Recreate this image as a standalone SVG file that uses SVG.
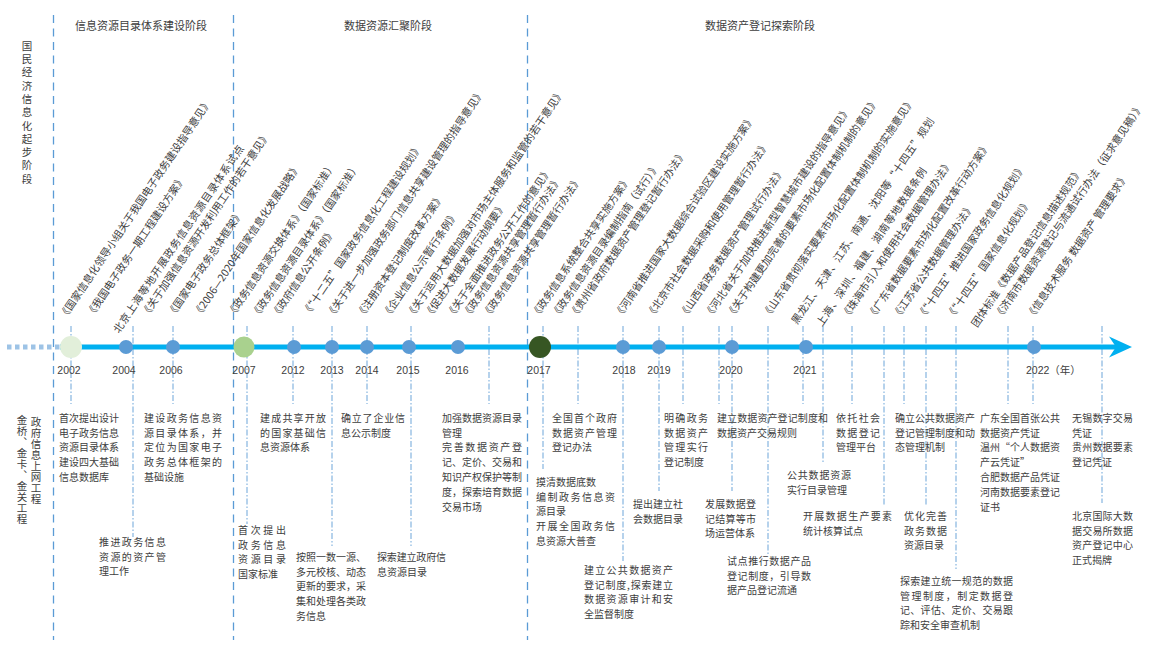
<svg xmlns="http://www.w3.org/2000/svg" width="1154" height="651" viewBox="0 0 1154 651">
<style>
text{font-family:"Noto Sans CJK SC","Liberation Sans",sans-serif;fill:#3d3d3d}
.stg{font-size:11px;text-anchor:middle}
.t{font-size:10.5px}
.d text{font-size:10px}
.yr{font-family:"Liberation Sans","Noto Sans CJK SC",sans-serif;font-size:10.5px;text-anchor:middle}
.vt{font-size:10.5px;writing-mode:vertical-rl}
.div{stroke:#5b9bd5;stroke-width:1.3;stroke-dasharray:8 5.5;fill:none}
.cn{stroke:#5b9bd5;stroke-width:0.9;stroke-dasharray:6 2 1.5 2;fill:none}
.dot{fill:#5b9bd5}
</style>
<rect width="1154" height="651" fill="#ffffff"/>

<g id="stages">
<line class="div" x1="53.5" y1="15" x2="53.5" y2="640"/>
<line class="div" x1="233.5" y1="15" x2="233.5" y2="640"/>
<line class="div" x1="527.5" y1="15" x2="527.5" y2="640"/>
<text class="stg" x="141" y="29.5">信息资源目录体系建设阶段</text>
<text class="stg" x="388" y="29.5">数据资源汇聚阶段</text>
<text class="stg" x="760" y="29.5">数据资产登记探索阶段</text>
<text class="vt" x="27" y="40.5" style="letter-spacing:2.8px">国民经济信息化起步阶段</text>
<text class="vt" x="36" y="417" style="letter-spacing:0.5px">政府信息上网工程</text>
<text class="vt" x="22" y="415" style="letter-spacing:0.5px">金桥、金卡、金关工程</text>
</g>

<g id="connectors">
<line class="cn" x1="71" y1="326" x2="71" y2="404"/>
<line class="cn" x1="133" y1="326" x2="133" y2="537"/>
<line class="cn" x1="173" y1="326" x2="173" y2="404"/>
<line class="cn" x1="247" y1="326" x2="247" y2="524"/>
<line class="cn" x1="293" y1="326" x2="293" y2="404"/>
<line class="cn" x1="332" y1="326" x2="332" y2="546"/>
<line class="cn" x1="367" y1="326" x2="367" y2="404"/>
<line class="cn" x1="411" y1="326" x2="411" y2="546"/>
<line class="cn" x1="489" y1="326" x2="489" y2="404"/>
<line class="cn" x1="543" y1="326" x2="543" y2="469"/>
<line class="cn" x1="578" y1="326" x2="578" y2="404"/>
<line class="cn" x1="623" y1="326" x2="623" y2="561"/>
<line class="cn" x1="659" y1="326" x2="659" y2="491"/>
<line class="cn" x1="683" y1="326" x2="683" y2="404"/>
<line class="cn" x1="719" y1="326" x2="719" y2="404"/>
<line class="cn" x1="732" y1="326" x2="732" y2="491"/>
<line class="cn" x1="768" y1="326" x2="768" y2="555"/>
<line class="cn" x1="803" y1="326" x2="803" y2="404"/>
<line class="cn" x1="823" y1="326" x2="823" y2="464"/>
<line class="cn" x1="852" y1="326" x2="852" y2="404"/>
<line class="cn" x1="884" y1="326" x2="884" y2="506"/>
<line class="cn" x1="904" y1="326" x2="904" y2="404"/>
<line class="cn" x1="926" y1="326" x2="926" y2="506"/>
<line class="cn" x1="956" y1="326" x2="956" y2="569"/>
<line class="cn" x1="1008" y1="326" x2="1008" y2="404"/>
<line class="cn" x1="1033" y1="326" x2="1033" y2="404"/>
<line class="cn" x1="1102" y1="326" x2="1102" y2="503"/>
</g>

<g id="timeline">
<line x1="7" y1="347" x2="60" y2="347" stroke="#9dc3e6" stroke-width="5" stroke-dasharray="4.5 3.5"/>
<line x1="60" y1="347" x2="1117" y2="347" stroke="#00b0f0" stroke-width="5"/>
<polygon points="1132,347 1109,336.5 1116,347 1109,357.5" fill="#00b0f0"/>
</g>

<g id="y2002"><circle cx="71" cy="347" r="11" fill="#e2efda"/><text class="yr" x="69" y="373.8">2002</text></g>
<g id="y2004"><circle class="dot" cx="126" cy="347" r="7"/><text class="yr" x="124" y="373.8">2004</text></g>
<g id="y2006"><circle class="dot" cx="173" cy="347" r="7"/><text class="yr" x="171" y="373.8">2006</text></g>
<g id="y2007"><circle cx="244" cy="347" r="10.5" fill="#a9d18e"/><text class="yr" x="244" y="373.8">2007</text></g>
<g id="y2012"><circle class="dot" cx="294" cy="347" r="7"/><text class="yr" x="293" y="373.8">2012</text></g>
<g id="y2013"><circle class="dot" cx="332" cy="347" r="7"/><text class="yr" x="332" y="373.8">2013</text></g>
<g id="y2014"><circle class="dot" cx="367" cy="347" r="7"/><text class="yr" x="367" y="373.8">2014</text></g>
<g id="y2015"><circle class="dot" cx="409" cy="347" r="7"/><text class="yr" x="408" y="373.8">2015</text></g>
<g id="y2016"><circle class="dot" cx="458" cy="347" r="7"/><text class="yr" x="457" y="373.8">2016</text></g>
<g id="y2017"><circle cx="540" cy="347" r="11" fill="#375623"/><text class="yr" x="539" y="373.8">2017</text></g>
<g id="y2018"><circle class="dot" cx="623" cy="347" r="7"/><text class="yr" x="624" y="373.8">2018</text></g>
<g id="y2019"><circle class="dot" cx="659" cy="347" r="7"/><text class="yr" x="659" y="373.8">2019</text></g>
<g id="y2020"><circle class="dot" cx="732" cy="347" r="7"/><text class="yr" x="731" y="373.8">2020</text></g>
<g id="y2021"><circle class="dot" cx="806" cy="347" r="7"/><text class="yr" x="805" y="373.8">2021</text></g>
<g id="y2022"><circle class="dot" cx="1034" cy="347" r="7"/><text class="yr" x="1026" y="373.8" style="text-anchor:start">2022（年）</text></g>

<g id="titles">
<text class="t" transform="translate(65,320) rotate(-56)">《国家信息化领导小组关于我国电子政务建设指导意见》</text>
<text class="t" transform="translate(92,318) rotate(-56)">《我国电子政务一期工程建设方案》</text>
<text class="t" transform="translate(119,334) rotate(-56)" textLength="224">北京上海等地开展政务信息资源目录体系试点</text>
<text class="t" transform="translate(147,318) rotate(-56)">《关于加强信息资源开发利用工作的若干意见》</text>
<text class="t" transform="translate(173,318) rotate(-56)">《国家电子政务总体框架》</text>
<text class="t" transform="translate(199,318) rotate(-56)">《2006—2020年国家信息化发展战略》</text>
<text class="t" transform="translate(233,318) rotate(-56)">《政务信息资源交换体系》（国家标准）</text>
<text class="t" transform="translate(257,319) rotate(-56)">《政务信息资源目录体系》（国家标准）</text>
<text class="t" transform="translate(277,319) rotate(-56)">《政府信息公开条例》</text>
<text class="t" transform="translate(308,317) rotate(-56)">《“十二五”国家政务信息化工程建设规划》</text>
<text class="t" transform="translate(332,319) rotate(-56)">《关于进一步加强政务部门信息共享建设管理的指导意见》</text>
<text class="t" transform="translate(362,319) rotate(-56)">《注册资本登记制度改革方案》</text>
<text class="t" transform="translate(388,319) rotate(-56)">《企业信息公示暂行条例》</text>
<text class="t" transform="translate(412,319) rotate(-56)">《关于运用大数据加强对市场主体服务和监管的若干意见》</text>
<text class="t" transform="translate(430,319) rotate(-56)">《促进大数据发展行动纲要》</text>
<text class="t" transform="translate(452,319) rotate(-56)">《关于全面推进政务公开工作的意见》</text>
<text class="t" transform="translate(468,319) rotate(-56)">《政务信息资源共享管理暂行办法》</text>
<text class="t" transform="translate(488,319) rotate(-56)">《政务信息资源共享管理暂行办法》</text>
<text class="t" transform="translate(537,319) rotate(-56)">《政务信息系统整合共享实施方案》</text>
<text class="t" transform="translate(557,319) rotate(-56)">《政务信息资源目录编制指南（试行）》</text>
<text class="t" transform="translate(575,319) rotate(-56)">《贵州省政府数据资产管理登记暂行办法》</text>
<text class="t" transform="translate(620,319) rotate(-56)">《河南省推进国家大数据综合试验区建设实施方案》</text>
<text class="t" transform="translate(652,319) rotate(-56)">《北京市社会数据采购和使用管理暂行办法》</text>
<text class="t" transform="translate(685,319) rotate(-56)">《山西省政务数据资产管理试行办法》</text>
<text class="t" transform="translate(710,319) rotate(-56)">《河北省关于加快推进新型智慧城市建设的指导意见》</text>
<text class="t" transform="translate(732,319) rotate(-56)">《关于构建更加完善的要素市场化配置体制机制的意见》</text>
<text class="t" transform="translate(768,319) rotate(-56)">《山东省贯彻落实要素市场化配置体制机制的实施意见》</text>
<text class="t" transform="translate(797,325) rotate(-56)" textLength="246">黑龙江、天津、江苏、南通、沈阳等“十四五”规划</text>
<text class="t" transform="translate(822,327) rotate(-56)" textLength="188">上海、深圳、福建、湖南等地数据条例</text>
<text class="t" transform="translate(847,320) rotate(-56)">《珠海市引入和使用社会数据管理办法》</text>
<text class="t" transform="translate(873,320) rotate(-56)">《广东省数据要素市场化配置改革行动方案》</text>
<text class="t" transform="translate(898,320) rotate(-56)">《江苏省公共数据管理办法》</text>
<text class="t" transform="translate(923,320) rotate(-56)">《“十四五”推进国家政务信息化规划》</text>
<text class="t" transform="translate(952,320) rotate(-56)">《“十四五”国家信息化规划》</text>
<text class="t" transform="translate(977,328) rotate(-56)">团体标准《数据产品登记信息描述规范》</text>
<text class="t" transform="translate(1000,320) rotate(-56)">《济南市数据资源登记与流通试行办法（征求意见稿）》</text>
<text class="t" transform="translate(1032,320) rotate(-56)">《信息技术服务 数据资产 管理要求》</text>
</g>

<g id="d1" class="d">
<text x="59" y="421.8" textLength="60">首次提出设计</text>
<text x="59" y="436.6" textLength="60">电子政务信息</text>
<text x="59" y="451.4" textLength="60">资源目录体系</text>
<text x="59" y="466.2" textLength="60">建设四大基础</text>
<text x="59" y="481">信息数据库</text>
</g>
<g id="d2" class="d">
<text x="144" y="421.8" textLength="78">建设政务信息资</text>
<text x="144" y="436.6" textLength="78">源目录体系，并</text>
<text x="144" y="451.4" textLength="78">定位为国家电子</text>
<text x="144" y="466.2" textLength="78">政务总体框架的</text>
<text x="144" y="481">基础设施</text>
</g>
<g id="d3" class="d">
<text x="99" y="545.8" textLength="67">推进政务信息</text>
<text x="99" y="560.6" textLength="67">资源的资产管</text>
<text x="99" y="575.4">理工作</text>
</g>
<g id="d4" class="d">
<text x="238" y="533.8" textLength="48">首次提出</text>
<text x="238" y="548.6" textLength="48">政务信息</text>
<text x="238" y="563.4" textLength="48">资源目录</text>
<text x="238" y="578.2">国家标准</text>
</g>
<g id="d5" class="d">
<text x="260" y="421.8" textLength="66">建成共享开放</text>
<text x="260" y="436.6" textLength="66">的国家基础信</text>
<text x="260" y="451.4">息资源体系</text>
</g>
<g id="d6" class="d">
<text x="341" y="421.8" textLength="64">确立了企业信</text>
<text x="341" y="436.6">息公示制度</text>
</g>
<g id="d7" class="d">
<text x="296" y="560.8" textLength="70">按照一数一源、</text>
<text x="296" y="575.6" textLength="70">多元校核、动态</text>
<text x="296" y="590.4" textLength="70">更新的要求，采</text>
<text x="296" y="605.2" textLength="70">集和处理各类政</text>
<text x="296" y="620">务信息</text>
</g>
<g id="d8" class="d">
<text x="377" y="560.8" textLength="69">探索建立政府信</text>
<text x="377" y="575.6">息资源目录</text>
</g>
<g id="d9" class="d">
<text x="442" y="421.8" textLength="80">加强数据资源目录</text>
<text x="442" y="436.6">管理</text>
<text x="442" y="451.4" textLength="80">完善数据资产登</text>
<text x="442" y="466.2" textLength="80">记、定价、交易和</text>
<text x="442" y="481" textLength="80">知识产权保护等制</text>
<text x="442" y="495.8" textLength="80">度，探索培育数据</text>
<text x="442" y="510.6">交易市场</text>
</g>
<g id="d10" class="d">
<text x="552" y="421.8" textLength="65">全国首个政府</text>
<text x="552" y="436.6" textLength="65">数据资产管理</text>
<text x="552" y="451.4">登记办法</text>
</g>
<g id="d11" class="d">
<text x="536" y="485.8">摸清数据底数</text>
<text x="536" y="500.6" textLength="79">编制政务信息资</text>
<text x="536" y="515.4">源目录</text>
<text x="536" y="530.2" textLength="79">开展全国政务信</text>
<text x="536" y="545">息资源大普查</text>
</g>
<g id="d12" class="d">
<text x="633" y="507.8" textLength="50">提出建立社</text>
<text x="633" y="522.6" textLength="50">会数据目录</text>
</g>
<g id="d13" class="d">
<text x="664" y="421.8" textLength="44">明确政务</text>
<text x="664" y="436.6" textLength="44">数据资产</text>
<text x="664" y="451.4" textLength="44">管理实行</text>
<text x="664" y="466.2">登记制度</text>
</g>
<g id="d14" class="d">
<text x="584" y="573.8" textLength="89">建立公共数据资产</text>
<text x="584" y="588.6" textLength="89">登记制度,探索建立</text>
<text x="584" y="603.4" textLength="89">数据资源审计和安</text>
<text x="584" y="618.2">全监督制度</text>
</g>
<g id="d15" class="d">
<text x="717" y="421.8" textLength="111">建立数据资产登记制度和</text>
<text x="717" y="436.6">数据资产交易规则</text>
</g>
<g id="d16" class="d">
<text x="705" y="507.8" textLength="51">发展数据登</text>
<text x="705" y="522.6" textLength="51">记结算等市</text>
<text x="705" y="537.4">场运营体系</text>
</g>
<g id="d17" class="d">
<text x="727" y="564.8" textLength="84">试点推行数据产品</text>
<text x="727" y="579.6" textLength="84">登记制度，引导数</text>
<text x="727" y="594.4">据产品登记流通</text>
</g>
<g id="d18" class="d">
<text x="787" y="478.8" textLength="64">公共数据资源</text>
<text x="787" y="493.6">实行目录管理</text>
</g>
<g id="d19" class="d">
<text x="836" y="421.8" textLength="44">依托社会</text>
<text x="836" y="436.6" textLength="44">数据登记</text>
<text x="836" y="451.4">管理平台</text>
</g>
<g id="d20" class="d">
<text x="803" y="519.8" textLength="89">开展数据生产要素</text>
<text x="803" y="534.6">统计核算试点</text>
</g>
<g id="d21" class="d">
<text x="895" y="421.8" textLength="80">确立公共数据资产</text>
<text x="895" y="436.6" textLength="80">登记管理制度和动</text>
<text x="895" y="451.4">态管理机制</text>
</g>
<g id="d22" class="d">
<text x="904" y="519.8" textLength="43">优化完善</text>
<text x="904" y="534.6" textLength="43">政务数据</text>
<text x="904" y="549.4">资源目录</text>
</g>
<g id="d23" class="d">
<text x="900" y="584.8" textLength="113">探索建立统一规范的数据</text>
<text x="900" y="599.6" textLength="113">管理制度，制定数据登</text>
<text x="900" y="614.4" textLength="113">记、评估、定价、交易跟</text>
<text x="900" y="629.2">踪和安全审查机制</text>
</g>
<g id="d24" class="d">
<text x="980" y="421.8" textLength="80">广东全国首张公共</text>
<text x="980" y="436.6">数据资产凭证</text>
<text x="980" y="451.4" textLength="80">温州“个人数据资</text>
<text x="980" y="466.2">产云凭证”</text>
<text x="980" y="481" textLength="80">合肥数据产品凭证</text>
<text x="980" y="495.8" textLength="80">河南数据要素登记</text>
<text x="980" y="510.6">证书</text>
</g>
<g id="d25" class="d">
<text x="1072" y="421.8" textLength="61">无锡数字交易</text>
<text x="1072" y="436.6">凭证</text>
<text x="1072" y="451.4" textLength="61">贵州数据要素</text>
<text x="1072" y="466.2">登记凭证</text>
</g>
<g id="d26" class="d">
<text x="1072" y="519.8" textLength="61">北京国际大数</text>
<text x="1072" y="534.6" textLength="61">据交易所数据</text>
<text x="1072" y="549.4" textLength="61">资产登记中心</text>
<text x="1072" y="564.2">正式揭牌</text>
</g>
</svg>
